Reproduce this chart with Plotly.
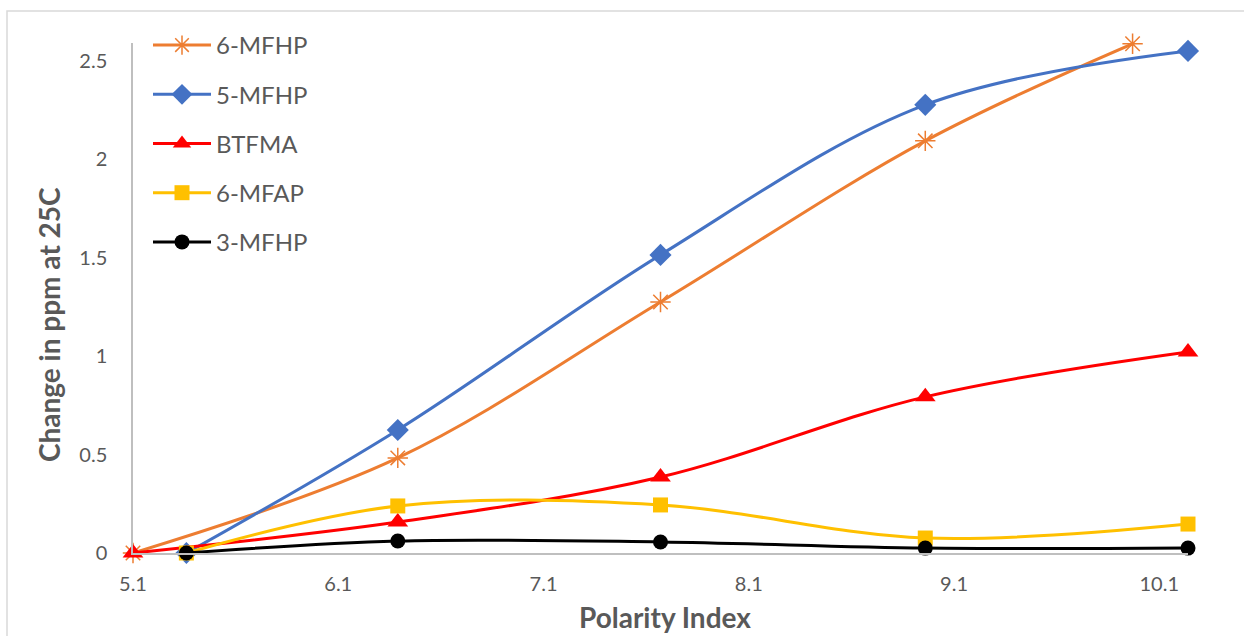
import plotly.graph_objects as go

# Data
names = ["6-MFHP", "5-MFHP", "BTFMA", "6-MFAP", "3-MFHP"]
x_6mfhp = [5.10, 6.39, 7.67, 8.96, 9.97]
y_6mfhp = [0.0, 0.483, 1.275, 2.093, 2.586]
x_5mfhp = [5.36, 6.39, 7.67, 8.96, 10.24]
y_5mfhp = [0.0, 0.625, 1.514, 2.276, 2.55]
x_btfma = [5.10, 6.39, 7.67, 8.96, 10.24]
y_btfma = [0.0, 0.157, 0.386, 0.793, 1.021]
x_6mfap = [5.36, 6.39, 7.67, 8.96, 10.24]
y_6mfap = [0.0, 0.239, 0.244, 0.076, 0.147]
x_3mfhp = [5.36, 6.39, 7.67, 8.96, 10.24]
y_3mfhp = [0.0, 0.061, 0.056, 0.025, 0.025]

x_ticks = [5.1, 6.1, 7.1, 8.1, 9.1, 10.1]
y_ticks = [0, 0.5, 1, 1.5, 2, 2.5]
y_tick_text = ["0", "0.5", "1", "1.5", "2", "2.5"]

x_title = "Polarity Index"
y_title = "Change in ppm at 25C"

colors = ["#ED7D31", "#4472C4", "#FF0000", "#FFC000", "#000000"]
symbols = ["asterisk-open", "diamond", "triangle-up", "square", "circle"]
sizes = [17, 17, 18, 15, 15]
xs = [x_6mfhp, x_5mfhp, x_btfma, x_6mfap, x_3mfhp]
ys = [y_6mfhp, y_5mfhp, y_btfma, y_6mfap, y_3mfhp]

font_family = "Lato, 'Open Sans', sans-serif"
gray = "#595959"

fig = go.Figure()
for i, name in enumerate(names):
    marker = dict(symbol=symbols[i], size=sizes[i], color=colors[i])
    if symbols[i] == "asterisk-open":
        marker["line"] = dict(color=colors[i], width=1.5)
    fig.add_trace(go.Scatter(
        x=xs[i], y=ys[i], name=name, mode="lines+markers",
        line=dict(color=colors[i], width=3, shape="spline", smoothing=1.0),
        marker=marker, cliponaxis=False, legendgroup=name,
    ))

L, R, T, B = 133, 56, 43, 83
W, H = 1244, 636
pw, ph = W - L - R, H - T - B

fig.update_layout(
    width=W, height=H,
    margin=dict(l=L, r=R, t=T, b=B),
    paper_bgcolor="white", plot_bgcolor="white",
    font=dict(family=font_family, color=gray, size=20),
    showlegend=True,
    legend=dict(
        x=(148 - L) / pw, y=(553 - 23) / ph, xanchor="left", yanchor="top",
        font=dict(size=24, color=gray, family=font_family),
        bgcolor="rgba(0,0,0,0)", tracegroupgap=15, itemwidth=58,
    ),
    xaxis=dict(
        range=[5.1, 10.24], tickmode="array", tickvals=x_ticks,
        ticktext=[str(v) for v in x_ticks],
        showgrid=False, zeroline=False, showline=True,
        linecolor="#BFBFBF", linewidth=1.5, ticks="outside", ticklen=12,
        tickcolor="rgba(0,0,0,0)",
        tickfont=dict(size=20, color=gray),
    ),
    yaxis=dict(
        range=[0, 2.59], tickmode="array", tickvals=y_ticks, ticktext=y_tick_text,
        showgrid=False, zeroline=False, showline=True,
        linecolor="#BFBFBF", linewidth=1.5, ticks="outside", ticklen=20, tickcolor="rgba(0,0,0,0)",
        tickfont=dict(size=20, color=gray),
    ),
    annotations=[
        dict(text="<b>" + x_title + "</b>", xref="paper", yref="paper",
             x=(665 - L) / pw, y=(553 - 617) / ph, xanchor="center", yanchor="middle",
             showarrow=False, font=dict(size=28, color=gray, family=font_family)),
        dict(text="<b>" + y_title + "</b>", xref="paper", yref="paper", textangle=-90,
             x=(49 - L) / pw, y=(553 - 325) / ph, xanchor="center", yanchor="middle",
             showarrow=False, font=dict(size=28, color=gray, family=font_family)),
    ],
    shapes=[dict(
        type="rect", xref="paper", yref="paper",
        x0=(7 - L) / pw, x1=(1260 - L) / pw,
        y0=(553 - 650) / ph, y1=(553 - 11) / ph,
        line=dict(color="#D9D9D9", width=1.5), fillcolor="rgba(0,0,0,0)", layer="below",
    )],
)

fig.write_html("out.html")
